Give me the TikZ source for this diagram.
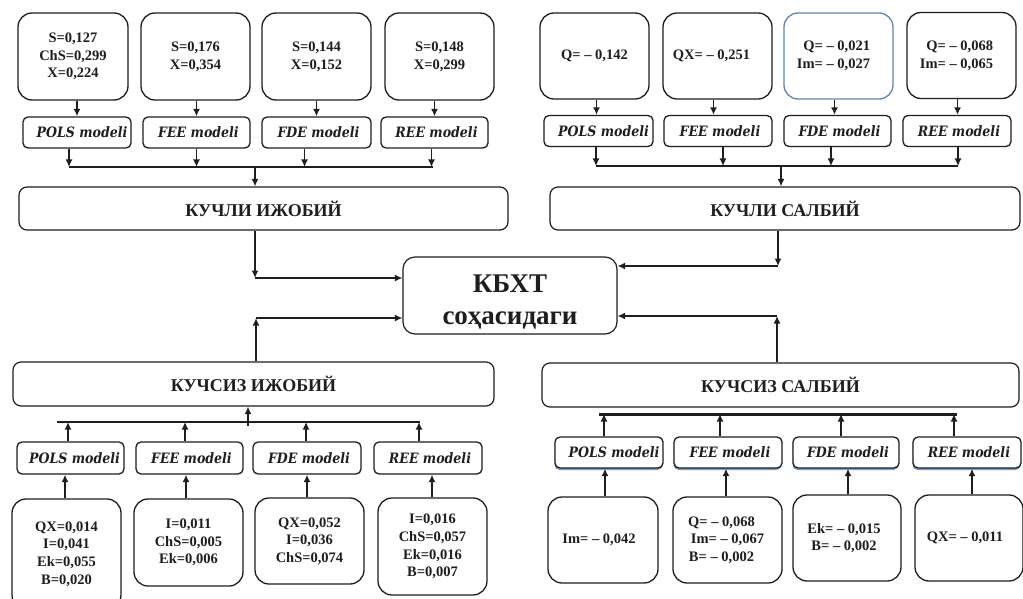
\documentclass[tikz,border=0pt]{standalone}
\usepackage{fontspec}
\setmainfont{Liberation Serif}
\newfontfamily\modelfont[FakeStretch=0.88]{DejaVu Serif}
\usetikzlibrary{arrows.meta,shadows}
\definecolor{inkc}{HTML}{1E1E1E}
\definecolor{bluebd}{HTML}{5A86B4}
\tikzset{
  valbox/.style={draw=inkc, line width=1.3pt, rounded corners=14pt, align=center,
    font=\fontsize{14.5}{17.7}\selectfont\bfseries, text=inkc, inner sep=0pt},
  modbox/.style={draw=inkc, line width=1.3pt, rounded corners=5pt, minimum height=31pt,
    font=\modelfont\fontsize{14.3}{15}\selectfont\bfseries\itshape, text=inkc, inner sep=0pt},
  blueshadow/.style={fill=white, drop shadow={shadow xshift=-0.5pt, shadow yshift=-2pt, fill=bluebd, opacity=0.8}},
  bigbox/.style={draw=inkc, line width=1.2pt, rounded corners=8pt, minimum height=43pt,
    font=\fontsize{18}{20}\selectfont\bfseries, text=inkc, inner sep=0pt},
  arr/.style={draw=inkc, line width=1.8pt, -{Latex[length=7.5pt,width=7pt]}},
  ln/.style={draw=inkc, line width=1.8pt},
}
\newcommand{\shr}{\hspace*{4pt}}
\begin{document}
\begin{tikzpicture}[x=1pt,y=-1pt]
\useasboundingbox (0,0) rectangle (1023,599);
\fill[white] (0,0) rectangle (1023,599);

% ---------- top-left ----------
\node[valbox, minimum width=110pt, minimum height=87pt] (v1) at (73,56.5) {S=0,127\\ChS=0,299\\X=0,224};
\node[valbox, minimum width=109pt, minimum height=87pt] (v2) at (195.5,56.5) {S=0,176\\X=0,354};
\node[valbox, minimum width=109pt, minimum height=87pt] (v3) at (316.5,56.5) {S=0,144\\X=0,152};
\node[valbox, minimum width=109pt, minimum height=87pt] (v4) at (439.5,56.5) {S=0,148\\X=0,299};

\node[modbox, minimum width=108pt] (m1) at (77,132.5) {\hspace*{10pt}POLS modeli};
\node[modbox, minimum width=107pt] (m2) at (196.5,132.5) {\shr FEE modeli};
\node[modbox, minimum width=109pt] (m3) at (316.5,132.5) {\shr FDE modeli};
\node[modbox, minimum width=107pt] (m4) at (434.5,132.5) {\shr REE modeli};

\foreach \i in {1,2,3,4} \draw[arr] (v\i.south -| m\i) -- (m\i.north);

\node[bigbox, minimum width=489pt] (k1) at (263.5,208.5) {КУЧЛИ ИЖОБИЙ};
\coordinate (tlbusL) at (69,167);
\coordinate (tlbusR) at (433,167);
\coordinate (tlbusM) at (255,167);
\draw[arr] ([xshift=-8pt]m1.south) -- ([xshift=-8pt]m1.south |- tlbusL);
\draw[arr] (m2.south) -- (m2.south |- tlbusL);
\draw[arr] ([xshift=-12pt]m3.south) -- ([xshift=-12pt]m3.south |- tlbusL);
\draw[arr] ([xshift=-3pt]m4.south) -- ([xshift=-3pt]m4.south |- tlbusL);
\draw[ln] (tlbusL) -- (tlbusR);
\draw[arr] (tlbusM) -- (tlbusM |- k1.north);

% ---------- top-right ----------
\node[valbox, minimum width=109pt, minimum height=86pt] (w1) at (594.5,56) {Q= – 0,142};
\node[valbox, minimum width=109pt, minimum height=86pt] (w2) at (717.5,56) {QX= – 0,251\hspace*{12pt}};
\node[valbox, draw=bluebd, align=right, minimum width=109pt, minimum height=86pt] (w3) at (838.5,56) {Q= – 0,021\hspace*{10pt}\\Im= – 0,027\hspace*{10pt}};
\node[valbox, align=right, minimum width=109pt, minimum height=86pt] (w4) at (961.5,55.5) {Q= – 0,068\hspace*{10pt}\\Im= – 0,065\hspace*{10pt}};

\node[modbox, minimum width=109pt] (n1) at (598.5,131) {\hspace*{10pt}POLS modeli};
\node[modbox, minimum width=108pt] (n2) at (718,131) {\shr FEE modeli};
\node[modbox, minimum width=107pt] (n3) at (837.5,131) {\shr FDE modeli};
\node[modbox, minimum width=108pt] (n4) at (957,131) {\shr REE modeli};

\draw[arr] ([xshift=2pt]w1.south) -- ([xshift=2pt]w1.south |- n1.north);
\draw[arr] ([xshift=-4pt]w2.south) -- ([xshift=-4pt]w2.south |- n2.north);
\draw[arr] ([xshift=-4pt]w3.south) -- ([xshift=-4pt]w3.south |- n3.north);
\draw[arr] ([xshift=-4pt]w4.south) -- ([xshift=-4pt]w4.south |- n4.north);

\node[bigbox, minimum width=470pt] (k2) at (785,208.5) {КУЧЛИ САЛБИЙ};
\coordinate (trbusL) at (596,166);
\coordinate (trbusR) at (958,166);
\coordinate (trbusM) at (781,166);
\draw[arr] ([xshift=-2.5pt]n1.south) -- ([xshift=-2.5pt]n1.south |- trbusL);
\draw[arr] ([xshift=5pt]n2.south) -- ([xshift=5pt]n2.south |- trbusL);
\draw[arr] ([xshift=-6.5pt]n3.south) -- ([xshift=-6.5pt]n3.south |- trbusL);
\draw[arr] ([xshift=1pt]n4.south) -- ([xshift=1pt]n4.south |- trbusL);
\draw[ln] (trbusL) -- (trbusR);
\draw[arr] (trbusM) -- (trbusM |- k2.north);

% ---------- centre ----------
\node[draw=inkc, line width=1.2pt, rounded corners=12pt, minimum width=214pt, minimum height=77pt,
  font=\fontsize{27}{33}\selectfont\bfseries, text=inkc, inner sep=0pt] (c) at (510,295.5)
  {\raisebox{-6pt}[\height][\depth]{\begin{tabular}{@{}c@{}}КБХТ\\[-1pt]соҳасидаги\end{tabular}}};

\coordinate (cTL) at (255,278);
\coordinate (cTR) at (778,266);
\coordinate (cBL) at (256,318);
\coordinate (cBR) at (777,316);

\draw[arr] (k1.south -| cTL) -- (cTL);
\draw[arr] (cTL) -- (cTL -| c.west);
\draw[arr] (k2.south -| cTR) -- (cTR);
\draw[arr] (cTR) -- (cTR -| c.east);

% ---------- bottom-left ----------
\node[bigbox, minimum width=481pt, minimum height=44pt] (k3) at (253.5,384) {КУЧСИЗ ИЖОБИЙ};
\draw[arr] (k3.north -| cBL) -- (cBL);
\draw[arr] (cBL) -- (cBL -| c.west);

\node[modbox, minimum width=107pt, minimum height=32pt] (p1) at (70.5,458) {\hspace*{8pt}POLS modeli};
\node[modbox, minimum width=107pt, minimum height=32pt] (p2) at (189.5,458) {\shr FEE modeli};
\node[modbox, minimum width=108pt, minimum height=32pt] (p3) at (307,458) {\shr FDE modeli};
\node[modbox, minimum width=108pt, minimum height=32pt] (p4) at (428,458) {\shr REE modeli};

\node[valbox, minimum width=109pt, minimum height=110pt] (b1) at (66.5,554) {QX=0,014\\I=0,041\\Ek=0,055\\B=0,020};
\node[valbox, minimum width=109pt, minimum height=87pt] (b2) at (188.5,542.5) {I=0,011\\ChS=0,005\\Ek=0,006};
\node[valbox, minimum width=109pt, minimum height=86pt] (b3) at (309.5,541) {QX=0,052\\I=0,036\\ChS=0,074};
\node[valbox, minimum width=109pt, minimum height=97pt] (b4) at (432.5,546.5) {I=0,016\\ChS=0,057\\Ek=0,016\\B=0,007};

\draw[arr] (b1.north -| 65,0) -- (p1.south -| 65,0);
\draw[arr] (b2.north -| 186,0) -- (p2.south -| 186,0);
\draw[arr] (b3.north -| 307,0) -- (p3.south -| 307,0);
\draw[arr] (b4.north -| 432,0) -- (p4.south -| 432,0);

\coordinate (blbusL) at (57,422);
\coordinate (blbusR) at (420,422);
\coordinate (blbusM) at (248,422);
\draw[ln] (blbusL) -- (blbusR);
\draw[arr] (p1.north -| 68,0) -- (blbusL -| 68,0);
\draw[arr] (p2.north -| 185,0) -- (blbusL -| 185,0);
\draw[arr] (p3.north -| 306,0) -- (blbusL -| 306,0);
\draw[arr] (p4.north -| 419,0) -- (blbusL -| 419,0);
\draw[arr] ([yshift=-4pt]blbusM) -- (blbusM |- k3.south);

% ---------- bottom-right ----------
\node[bigbox, minimum width=477pt, minimum height=44pt] (k4) at (780.5,385) {КУЧСИЗ САЛБИЙ};
\draw[arr] (k4.north -| cBR) -- (cBR);
\draw[arr] (cBR) -- (cBR -| c.east);

\node[modbox, blueshadow, minimum width=108pt] (q1) at (609,452.5) {\hspace*{10pt}POLS modeli};
\node[modbox, blueshadow, minimum width=108pt] (q2) at (728,452.5) {\shr FEE modeli};
\node[modbox, blueshadow, minimum width=106pt] (q3) at (846,452.5) {\shr FDE modeli};
\node[modbox, blueshadow, minimum width=108pt] (q4) at (967,452.5) {\shr REE modeli};

\node[valbox, minimum width=110pt, minimum height=86pt] (r1) at (603,540) {Im= – 0,042\hspace*{8pt}};
\node[valbox, minimum width=109pt, minimum height=86pt] (r2) at (727.5,540) {Q= – 0,068\hspace*{12pt}\\Im= – 0,067\hspace*{12pt}\\B= – 0,002\hspace*{12pt}};
\node[valbox, minimum width=108pt, minimum height=86pt] (r3) at (847,538) {Ek= – 0,015\hspace*{6pt}\\B= – 0,002\hspace*{6pt}};
\node[valbox, minimum width=108pt, minimum height=86pt] (r4) at (969,538) {QX= – 0,011\hspace*{8pt}};

\draw[arr] (r1.north -| 605,0) -- (q1.south -| 605,0);
\draw[arr] (r2.north -| 726,0) -- (q2.south -| 726,0);
\draw[arr] (r3.north -| 848,0) -- (q3.south -| 848,0);
\draw[arr] (r4.north -| 972,0) -- (q4.south -| 972,0);

\coordinate (brbusL) at (599,414);
\coordinate (brbusR) at (957,414);
\draw[draw=inkc, line width=3pt] (brbusL) -- (brbusR);
\draw[arr] (q1.north -| 604,0) -- (brbusL -| 604,0);
\draw[arr] (q2.north -| 720,0) -- (brbusL -| 720,0);
\draw[arr] (q3.north -| 841,0) -- (brbusL -| 841,0);
\draw[arr] (q4.north -| 954,0) -- (brbusL -| 954,0);
\end{tikzpicture}
\end{document}
